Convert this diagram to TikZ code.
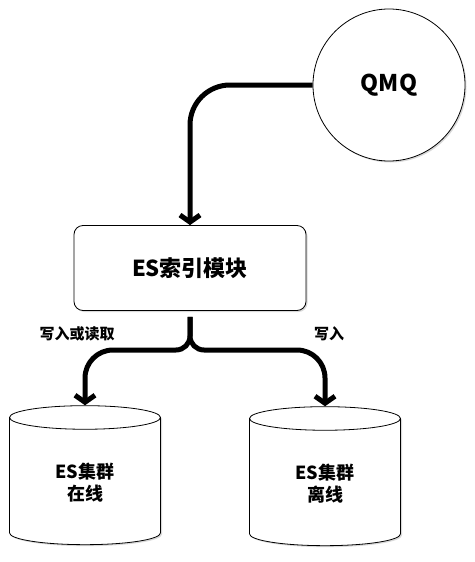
\documentclass[tikz,border=0pt]{standalone}
\usepackage{fontspec}
\setmainfont{Noto Sans CJK SC}
\usetikzlibrary{arrows.meta,shapes.geometric,shadows}
\begin{document}
\begin{tikzpicture}[
    x=1pt, y=-1pt,
    every node/.style={font=\bfseries, align=center},
    shade box/.style={draw, fill=white, line width=0.8pt,
                      drop shadow={shadow xshift=1.5pt, shadow yshift=-1.5pt, opacity=0.3}},
    module/.style={shade box, rounded corners=9pt, minimum width=232pt,
                   minimum height=85pt, font=\fontsize{22}{26}\bfseries\selectfont},
    queue/.style={shade box, circle, minimum size=152pt,
                  font=\fontsize{23}{27}\bfseries\selectfont},
    cluster/.style={shade box, cylinder, shape border rotate=90, aspect=0.36,
                    minimum width=151pt, minimum height=139pt,
                    font=\fontsize{18}{22}\bfseries\selectfont},
    flow/.style={line width=5pt, -{Straight Barb[length=7pt, width=20pt]}},
    flowtag/.style={font=\fontsize{15}{18}\bfseries\selectfont},
  ]
    \useasboundingbox (0,0) rectangle (474,562);
    \node[queue] (qmq) at (389,85) {QMQ};
    \node[module] (index) at (190,268) {ES索引模块};
    \node[cluster] (online) at (85,483) {ES集群\\在线};
    \node[cluster] (offline) at (325,484) {ES集群\\离线};
    \coordinate (fork) at (190,350);
    \draw[flow, rounded corners=40pt] (qmq.west) -| (index.north);
    \draw[flow, rounded corners=14pt] ([yshift=-6pt]index.south) |- ([xshift=-30pt]fork)
      [rounded corners=28pt] -| (online.north);
    \draw[flow, rounded corners=14pt] ([yshift=-6pt]index.south) |- ([xshift=30pt]fork)
      [rounded corners=28pt] -| (offline.north);
    \node[flowtag] (readwrite) at (77,334) {写入或读取};
    \node[flowtag] (write) at (329,334) {写入};
\end{tikzpicture}
\end{document}
